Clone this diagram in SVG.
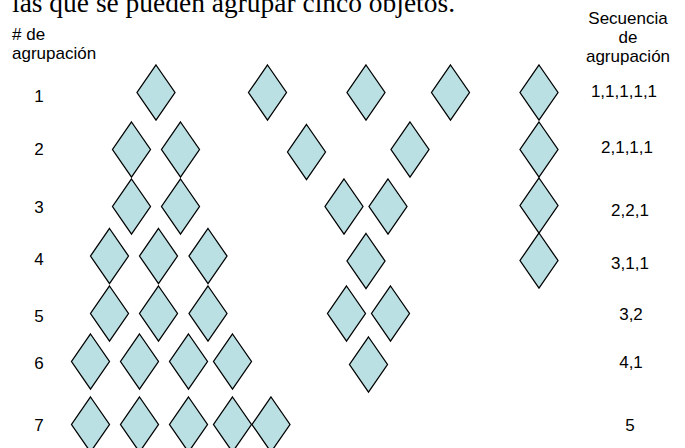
<svg xmlns="http://www.w3.org/2000/svg" xmlns:xlink="http://www.w3.org/1999/xlink" width="685" height="448" viewBox="0 0 685 448">
<style>
.t{font-family:"Liberation Sans",Arial,sans-serif;font-size:17px;fill:#000;}
.c{text-anchor:middle;}
.title{font-family:"Liberation Serif","Times New Roman",serif;font-size:27px;fill:#000;}
.d{fill:#BBE0E3;stroke:#000;stroke-width:1.3;stroke-linejoin:miter;}
</style>
<defs>
<polygon id="dm" class="d" points="0,-27.5 19,0 0,27.5 -19,0"/>
</defs>
<rect width="685" height="448" fill="#fff"/>
<text class="title" x="12" y="11.5" textLength="443" lengthAdjust="spacingAndGlyphs">las que se pueden agrupar cinco objetos.</text>

<g id="header-left">
<text class="t" x="12" y="40"># de</text>
<text class="t" x="12" y="59">agrupación</text>
</g>
<g id="header-right">
<text class="t c" x="628" y="24">Secuencia</text>
<text class="t c" x="628" y="43">de</text>
<text class="t c" x="628" y="62">agrupación</text>
</g>

<g id="row-labels">
<text class="t c" x="39" y="102">1</text>
<text class="t c" x="39" y="155">2</text>
<text class="t c" x="39" y="213">3</text>
<text class="t c" x="39" y="265">4</text>
<text class="t c" x="39" y="322">5</text>
<text class="t c" x="39" y="369">6</text>
<text class="t c" x="39" y="431">7</text>
</g>
<g id="seq-labels">
<text class="t c" x="624" y="97">1,1,1,1,1</text>
<text class="t c" x="627" y="153">2,1,1,1</text>
<text class="t c" x="630" y="216">2,2,1</text>
<text class="t c" x="630" y="269">3,1,1</text>
<text class="t c" x="631" y="320">3,2</text>
<text class="t c" x="631" y="368">4,1</text>
<text class="t c" x="630" y="431">5</text>
</g>

<g id="connectors"></g>

<g id="row1">
<g id="n1a" transform="translate(156,92.5)"><use href="#dm"/></g>
<g id="n1b" transform="translate(267.5,92.5)"><use href="#dm"/></g>
<g id="n1c" transform="translate(366,92.5)"><use href="#dm"/></g>
<g id="n1d" transform="translate(450.5,92.5)"><use href="#dm"/></g>
<g id="n1e" transform="translate(539,92.5)"><use href="#dm"/></g>
</g>
<g id="row2">
<g id="n2a" transform="translate(131.5,149.5)"><use href="#dm"/></g>
<g id="n2b" transform="translate(180.5,149.5)"><use href="#dm"/></g>
<g id="n2c" transform="translate(306.5,152)"><use href="#dm"/></g>
<g id="n2d" transform="translate(410,149.5)"><use href="#dm"/></g>
<g id="n2e" transform="translate(539,149.5)"><use href="#dm"/></g>
</g>
<g id="row3">
<g id="n3a" transform="translate(131.5,206.5)"><use href="#dm"/></g>
<g id="n3b" transform="translate(180.5,206.5)"><use href="#dm"/></g>
<g id="n3c" transform="translate(344,206.5)"><use href="#dm"/></g>
<g id="n3d" transform="translate(388,206.5)"><use href="#dm"/></g>
<g id="n3e" transform="translate(539,205.5)"><use href="#dm"/></g>
</g>
<g id="row4">
<g id="n4a" transform="translate(109.5,256)"><use href="#dm"/></g>
<g id="n4b" transform="translate(158.5,256)"><use href="#dm"/></g>
<g id="n4c" transform="translate(208,256)"><use href="#dm"/></g>
<g id="n4d" transform="translate(366,261)"><use href="#dm"/></g>
<g id="n4e" transform="translate(539,260.5)"><use href="#dm"/></g>
</g>
<g id="row5">
<g id="n5a" transform="translate(109.5,313.5)"><use href="#dm"/></g>
<g id="n5b" transform="translate(158.5,313.5)"><use href="#dm"/></g>
<g id="n5c" transform="translate(208,313.5)"><use href="#dm"/></g>
<g id="n5d" transform="translate(346.5,313.5)"><use href="#dm"/></g>
<g id="n5e" transform="translate(390.5,313.5)"><use href="#dm"/></g>
</g>
<g id="row6">
<g id="n6a" transform="translate(90.5,361.5)"><use href="#dm"/></g>
<g id="n6b" transform="translate(139.5,361.5)"><use href="#dm"/></g>
<g id="n6c" transform="translate(188.5,361.5)"><use href="#dm"/></g>
<g id="n6d" transform="translate(232.5,361.5)"><use href="#dm"/></g>
<g id="n6e" transform="translate(368.5,364.5)"><use href="#dm"/></g>
</g>
<g id="row7">
<g id="n7a" transform="translate(90.5,424.5)"><use href="#dm"/></g>
<g id="n7b" transform="translate(139.5,424.5)"><use href="#dm"/></g>
<g id="n7c" transform="translate(188.5,424.5)"><use href="#dm"/></g>
<g id="n7d" transform="translate(232.5,424.5)"><use href="#dm"/></g>
<g id="n7e" transform="translate(271,424.5)"><use href="#dm"/></g>
</g>
</svg>
